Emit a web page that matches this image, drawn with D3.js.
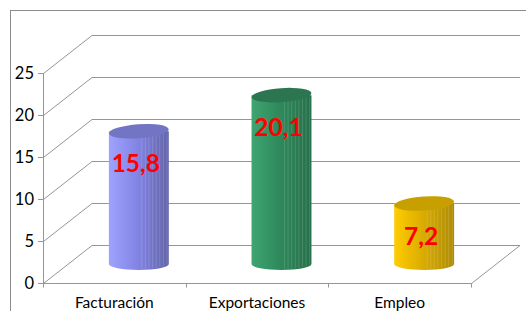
<!DOCTYPE html>
<html>
<head>
<meta charset="utf-8">
<script src="https://cdn.jsdelivr.net/npm/d3@7"></script>
<style>
  body { margin: 0; background: #fff; }
  svg { display: block; }
</style>
</head>
<body>
<script>
const categories = ['Facturación', 'Exportaciones', 'Empleo']
const values = [15.8, 20.1, 7.2]
const labels = ['15,8', '20,1', '7,2']
const yTicks = [0, 5, 10, 15, 20, 25]

// colors per cylinder: [light, mid, dark, top]
const palettes = [
    ['#a0a2ff', '#8486e6', '#6264a8', '#7274c4'],
    ['#3fa572', '#2f8a5c', '#26704a', '#2b7650'],
    ['#ffcc00', '#dcae02', '#ad8c06', '#c7a000']
]

const W = 526, H = 311
const svg = d3.select('body').append('svg').attr('width', W).attr('height', H)

// depth offset of the 3d box
const dx = 49, dy = -38

const x = d3.scaleBand().domain(categories).range([43, 471]).padding(0)
const y = d3.scaleLinear().domain([0, 25]).range([283, 73])

// outer border
svg.append('rect')
    .attr('x', 10.5).attr('y', 10.5)
    .attr('width', 530).attr('height', 320)
    .attr('fill', 'none').attr('stroke', '#8c8c8c')

const grid = svg.append('g').attr('fill', 'none').attr('stroke', '#959595').attr('stroke-width', 1)

// back wall lines + side wall diagonals
yTicks.forEach(t => {
    const yy = Math.round(y(t)) + 0.5
    grid.append('line')
        .attr('x1', 43 + dx).attr('x2', 471 + dx)
        .attr('y1', yy + dy).attr('y2', yy + dy)
    grid.append('line')
        .attr('x1', 43.5).attr('y1', yy)
        .attr('x2', 43 + dx).attr('y2', yy + dy)
})

// floor front + right edge
const y0 = Math.round(y(0)) + 0.5
grid.append('path')
    .attr('d', `M43.5,${y0} L471.5,${y0} L${471 + dx},${y0 + dy}`)

// y axis
grid.append('line').attr('x1', 43.5).attr('x2', 43.5).attr('y1', y(25)).attr('y2', y0)
yTicks.forEach(t => {
    const yy = Math.round(y(t)) + 0.5
    grid.append('line').attr('x1', 38).attr('x2', 43.5).attr('y1', yy).attr('y2', yy)
})
// x ticks at category boundaries
const bounds = categories.map(c => x(c)).concat([x.range()[1]])
bounds.forEach(b => {
    grid.append('line').attr('x1', Math.round(b) + 0.5).attr('x2', Math.round(b) + 0.5)
        .attr('y1', y0).attr('y2', y0 + 4)
})

svg.append('g')
    .selectAll('text')
    .data(yTicks)
    .join('text')
    .attr('x', 34).attr('y', d => y(d) + 6)
    .attr('text-anchor', 'end')
    .attr('font-family', 'Lato, sans-serif')
    .attr('font-size', 16.5)
    .attr('fill', '#000')
    .text(d => d)

svg.append('g')
    .selectAll('text')
    .data(categories)
    .join('text')
    .attr('x', d => x(d) + x.bandwidth() / 2)
    .attr('y', 308)
    .attr('text-anchor', 'middle')
    .attr('font-family', 'Lato, sans-serif')
    .attr('font-size', 15.5)
    .attr('fill', '#000')
    .text(d => d)

// gradients
const defs = svg.append('defs')
palettes.forEach((p, i) => {
    const g = defs.append('linearGradient').attr('id', 'cyl' + i)
        .attr('x1', 0).attr('x2', 1).attr('y1', 0).attr('y2', 0)
    g.append('stop').attr('offset', 0).attr('stop-color', p[0])
    g.append('stop').attr('offset', 0.45).attr('stop-color', p[1])
    g.append('stop').attr('offset', 1).attr('stop-color', p[2])
})

// cylinders
const r = x.bandwidth() * 0.21
const ryTop = 7, ryBot = 6
const cyl = svg.append('g')
categories.forEach((c, i) => {
    const cx = x(c) + x.bandwidth() / 2 + dx / 2
    const yb = y(0) + dy / 2
    const yt = y(values[i]) + dy / 2
    const g = cyl.append('g')
    g.append('path')
        .attr('d', `M${cx - r},${yt} L${cx - r},${yb} A${r},${ryBot} 0 0 0 ${cx + r},${yb} L${cx + r},${yt} Z`)
        .attr('fill', `url(#cyl${i})`)
    // faint vertical bands on the shaded side
    d3.range(0.55, 0.98, 0.06).forEach(f => {
        const xx = cx - r + 2 * r * f
        g.append('line')
            .attr('x1', xx).attr('x2', xx)
            .attr('y1', yt + 2).attr('y2', yb + ryBot * Math.sqrt(1 - Math.pow(2 * f - 1, 2)) - 1)
            .attr('stroke', '#fff').attr('stroke-opacity', 0.18).attr('stroke-width', 0.8)
    })
    g.append('ellipse')
        .attr('cx', cx).attr('cy', yt)
        .attr('rx', r).attr('ry', ryTop)
        .attr('transform', `rotate(-4 ${cx} ${yt})`)
        .attr('fill', palettes[i][3])

    svg.append('text')
        .attr('x', cx - 3)
        .attr('y', y(values[i]) + 22)
        .attr('text-anchor', 'middle')
        .attr('font-family', 'Lato, sans-serif')
        .attr('font-weight', 'bold')
        .attr('font-size', 24.5)
        .attr('fill', '#ff0000')
        .text(labels[i])
})
</script>
</body>
</html>
